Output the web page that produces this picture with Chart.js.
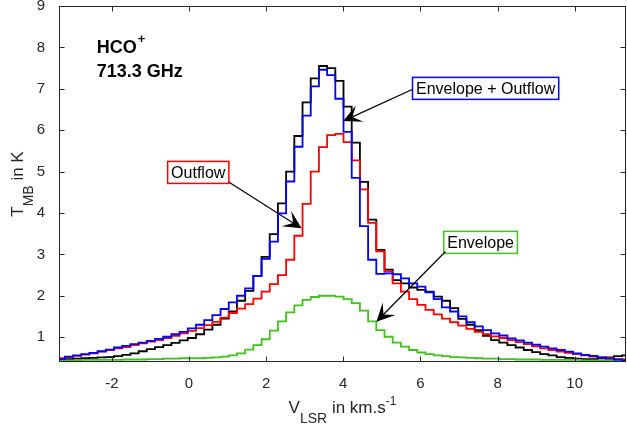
<!DOCTYPE html>
<html>
<head>
<meta charset="utf-8">
<script src="https://cdn.jsdelivr.net/npm/chart.js@4.4.0/dist/chart.umd.min.js"></script>
<style>
  html, body { margin: 0; padding: 0; background: #fff; }
  canvas { display: block; }
</style>
</head>
<body>
<canvas id="myChart" width="627" height="429"></canvas>
<script>
// channel grid (km/s): centre of the first channel and channel width
const channelStart = -3.5375;
const channelWidth = 0.2125;
const velocity = Array.from({ length: 72 }, (_, i) => +(channelStart + i * channelWidth).toFixed(4));

// T_MB (K) per channel
const observed = [
  0.46, 0.46, 0.47, 0.48, 0.49, 0.50, 0.51, 0.52, 0.54, 0.57, 0.61, 0.66, 0.71, 0.76, 0.81, 0.86,
  0.92, 0.98, 1.07, 1.18, 1.30, 1.45, 1.62, 1.88, 2.12, 2.48, 2.94, 3.49, 4.23, 5.00, 5.86, 6.67,
  7.25, 7.55, 7.50, 7.19, 6.57, 5.70, 4.75, 3.84, 3.11, 2.63, 2.38, 2.30, 2.20, 2.14, 2.10, 1.98,
  1.88, 1.70, 1.44, 1.30, 1.17, 1.03, 0.93, 0.87, 0.81, 0.75, 0.69, 0.64, 0.59, 0.56, 0.52, 0.50,
  0.48, 0.47, 0.47, 0.49, 0.51, 0.54, 0.56, 0.56
];
const envelopeOutflow = [
  0.47, 0.47, 0.53, 0.56, 0.59, 0.62, 0.66, 0.70, 0.75, 0.79, 0.83, 0.87, 0.91, 0.96, 1.01, 1.07,
  1.13, 1.21, 1.30, 1.41, 1.53, 1.68, 1.84, 2.00, 2.18, 2.48, 2.89, 3.31, 3.99, 4.76, 5.60, 6.35,
  7.06, 7.46, 7.33, 6.76, 5.96, 4.85, 3.68, 2.87, 2.53, 2.54, 2.52, 2.42, 2.30, 2.22, 2.08, 1.92,
  1.72, 1.62, 1.50, 1.36, 1.26, 1.17, 1.09, 1.04, 0.97, 0.92, 0.87, 0.82, 0.77, 0.73, 0.69, 0.65,
  0.61, 0.57, 0.55, 0.51, 0.48, 0.46, 0.44, 0.43
];
const outflow = [
  0.48, 0.49, 0.52, 0.55, 0.58, 0.61, 0.65, 0.69, 0.73, 0.76, 0.81, 0.85, 0.89, 0.93, 0.98, 1.03,
  1.09, 1.15, 1.22, 1.29, 1.37, 1.47, 1.58, 1.69, 1.80, 1.93, 2.10, 2.28, 2.50, 2.87, 3.45, 4.22,
  5.00, 5.59, 5.88, 5.91, 5.71, 5.27, 4.57, 3.76, 3.07, 2.59, 2.30, 2.10, 1.92, 1.78, 1.66, 1.55,
  1.45, 1.36, 1.28, 1.20, 1.13, 1.07, 1.02, 0.98, 0.93, 0.88, 0.83, 0.78, 0.73, 0.69, 0.65, 0.62,
  0.59, 0.56, 0.53, 0.51, 0.49, 0.47, 0.46, 0.46
];
const envelope = [
  0.44, 0.44, 0.44, 0.44, 0.45, 0.45, 0.45, 0.45, 0.45, 0.46, 0.46, 0.46, 0.47, 0.47, 0.48, 0.48,
  0.49, 0.49, 0.49, 0.50, 0.51, 0.53, 0.56, 0.61, 0.70, 0.81, 0.95, 1.16, 1.38, 1.60, 1.77, 1.90,
  1.97, 2.00, 2.00, 1.98, 1.92, 1.82, 1.64, 1.38, 1.17, 1.01, 0.87, 0.77, 0.69, 0.63, 0.59, 0.56,
  0.54, 0.52, 0.51, 0.50, 0.49, 0.48, 0.48, 0.47, 0.47, 0.46, 0.46, 0.46, 0.45, 0.45, 0.45, 0.45,
  0.45, 0.44, 0.44, 0.44, 0.44, 0.44, 0.44, 0.44
];

const xTicks = [-2, 0, 2, 4, 6, 8, 10];
const yTicks = [1, 2, 3, 4, 5, 6, 7, 8, 9];

const FONT = '"Liberation Sans", Arial, Helvetica, sans-serif';
const AXIS = '#262626';
const GREEN = '#3fc21c';

// boxed labels with arrows, in data coordinates (km/s, K)
const notes = [
  { text: 'Envelope + Outflow', color: '#0000ff', at: [7.69, 7.01], tail: [5.80, 6.99], tip: [4.00, 6.22] },
  { text: 'Outflow', color: '#ff0000', at: [0.24, 4.98], tail: [1.04, 4.74], tip: [2.92, 3.63] },
  { text: 'Envelope', color: GREEN, at: [7.56, 3.29], tail: [6.65, 3.07], tip: [4.86, 1.375] }
];

function series(values) {
  return velocity.map((v, i) => ({ x: v, y: values[i] }));
}

// draws a string made of pieces [text, size, baseline shift, bold]
function drawPieces(ctx, pieces, x, y) {
  let w = 0;
  pieces.forEach(p => {
    ctx.font = (p[3] ? 'bold ' : '') + p[1] + 'px ' + FONT;
    w += ctx.measureText(p[0]).width;
  });
  let cx = x - w / 2;
  pieces.forEach(p => {
    ctx.font = (p[3] ? 'bold ' : '') + p[1] + 'px ' + FONT;
    ctx.fillText(p[0], cx, y + p[2]);
    cx += ctx.measureText(p[0]).width;
  });
}

function drawArrow(ctx, x0, y0, x1, y1) {
  const dx = x1 - x0, dy = y1 - y0, len = Math.hypot(dx, dy);
  const ux = dx / len, uy = dy / len, nx = -uy, ny = ux;
  const L = 18, W = 9, N = 10;
  ctx.beginPath();
  ctx.moveTo(x0, y0);
  ctx.lineTo(x1 - ux * N, y1 - uy * N);
  ctx.stroke();
  ctx.beginPath();
  ctx.moveTo(x1, y1);
  ctx.lineTo(x1 - ux * L + nx * W, y1 - uy * L + ny * W);
  ctx.lineTo(x1 - ux * N, y1 - uy * N);
  ctx.lineTo(x1 - ux * L - nx * W, y1 - uy * L - ny * W);
  ctx.closePath();
  ctx.fill();
}

const framePlugin = {
  id: 'frame',
  afterDatasetsDraw(chart) {
    const { ctx, chartArea: a, scales: { x, y } } = chart;
    const tl = 5.5;
    ctx.save();
    ctx.strokeStyle = AXIS;
    ctx.lineWidth = 1;
    ctx.strokeRect(a.left + 0.5, a.top + 0.5, a.right - a.left - 1, a.bottom - a.top - 1);
    ctx.beginPath();
    xTicks.forEach(t => {
      const px = Math.round(x.getPixelForValue(t)) + 0.5;
      ctx.moveTo(px, a.bottom); ctx.lineTo(px, a.bottom - tl);
      ctx.moveTo(px, a.top); ctx.lineTo(px, a.top + tl);
    });
    yTicks.forEach(t => {
      const py = Math.round(y.getPixelForValue(t)) + 0.5;
      ctx.moveTo(a.left, py); ctx.lineTo(a.left + tl, py);
      ctx.moveTo(a.right, py); ctx.lineTo(a.right - tl, py);
    });
    ctx.stroke();

    // axis titles
    ctx.fillStyle = AXIS;
    ctx.textBaseline = 'alphabetic';
    const midX = (a.left + a.right) / 2;
    drawPieces(ctx, [['V', 17, 0], ['LSR', 14, 10], [' in km.s', 17, 0], ['-1', 12, -8]], midX, 413);
    ctx.save();
    ctx.translate(23, (a.top + a.bottom) / 2);
    ctx.rotate(-Math.PI / 2);
    drawPieces(ctx, [['T', 17, 0], ['MB', 14, 10], [' in K', 17, 0]], 0, 0);
    ctx.restore();
    ctx.restore();
  },
  afterDraw(chart) {
    const { ctx, scales: { x, y } } = chart;
    ctx.save();
    // line name
    ctx.fillStyle = '#000';
    ctx.textAlign = 'left';
    ctx.textBaseline = 'alphabetic';
    const lx = x.getPixelForValue(-2.39);
    ctx.font = 'bold 18px ' + FONT;
    ctx.fillText('HCO', lx, y.getPixelForValue(7.87));
    const w = ctx.measureText('HCO').width;
    ctx.font = 'bold 13px ' + FONT;
    ctx.fillText('+', lx + w + 1, y.getPixelForValue(7.87) - 10);
    ctx.font = 'bold 18px ' + FONT;
    ctx.fillText('713.3 GHz', lx, y.getPixelForValue(7.29));

    // boxed labels and arrows
    notes.forEach(n => {
      ctx.font = '16px ' + FONT;
      const cx = x.getPixelForValue(n.at[0]), cy = y.getPixelForValue(n.at[1]);
      const tw = ctx.measureText(n.text).width;
      const bw = tw + 7, bh = 22;
      ctx.fillStyle = '#fff';
      ctx.fillRect(cx - bw / 2, cy - bh / 2, bw, bh);
      ctx.strokeStyle = n.color;
      ctx.lineWidth = 1.5;
      ctx.strokeRect(cx - bw / 2, cy - bh / 2, bw, bh);
      ctx.fillStyle = '#000';
      ctx.textAlign = 'center';
      ctx.textBaseline = 'middle';
      ctx.fillText(n.text, cx, cy + 1);
      ctx.strokeStyle = '#000';
      ctx.fillStyle = '#000';
      ctx.lineWidth = 1.2;
      drawArrow(ctx, x.getPixelForValue(n.tail[0]), y.getPixelForValue(n.tail[1]),
        x.getPixelForValue(n.tip[0]), y.getPixelForValue(n.tip[1]));
    });
    ctx.restore();
  }
};

const ctx = document.getElementById('myChart').getContext('2d');
const lineStyle = { borderWidth: 1.8, stepped: 'middle', fill: false, pointRadius: 0 };
const myChart = new Chart(ctx, {
  type: 'line',
  data: {
    datasets: [
      { label: 'Envelope + Outflow', data: series(envelopeOutflow), borderColor: '#0000ff', ...lineStyle },
      { label: 'Outflow', data: series(outflow), borderColor: '#ff0000', ...lineStyle },
      { label: 'Envelope', data: series(envelope), borderColor: GREEN, ...lineStyle },
      { label: 'Observed', data: series(observed), borderColor: '#000000', ...lineStyle }
    ]
  },
  options: {
    responsive: false,
    animation: false,
    devicePixelRatio: 1,
    layout: { padding: { top: 6, right: 1, left: 0, bottom: 0 } },
    plugins: { legend: { display: false }, tooltip: { enabled: false } },
    scales: {
      x: {
        type: 'linear', min: -3.37, max: 11.33,
        grid: { display: false }, border: { display: false },
        ticks: { color: AXIS, font: { family: FONT, size: 15 }, padding: 5, maxRotation: 0, callback: v => String(v) },
        afterBuildTicks: s => { s.ticks = xTicks.map(v => ({ value: v })); },
        afterFit: s => { s.height = 67; s.paddingLeft = 0; s.paddingRight = 0; }
      },
      y: {
        type: 'linear', min: 0.4, max: 9,
        grid: { display: false }, border: { display: false },
        ticks: { color: AXIS, font: { family: FONT, size: 15 }, padding: 6, callback: v => String(v) },
        afterBuildTicks: s => { s.ticks = yTicks.map(v => ({ value: v })); },
        afterFit: s => { s.width = 59; s.paddingTop = 0; s.paddingBottom = 0; }
      }
    }
  },
  plugins: [framePlugin]
});
</script>
</body>
</html>
